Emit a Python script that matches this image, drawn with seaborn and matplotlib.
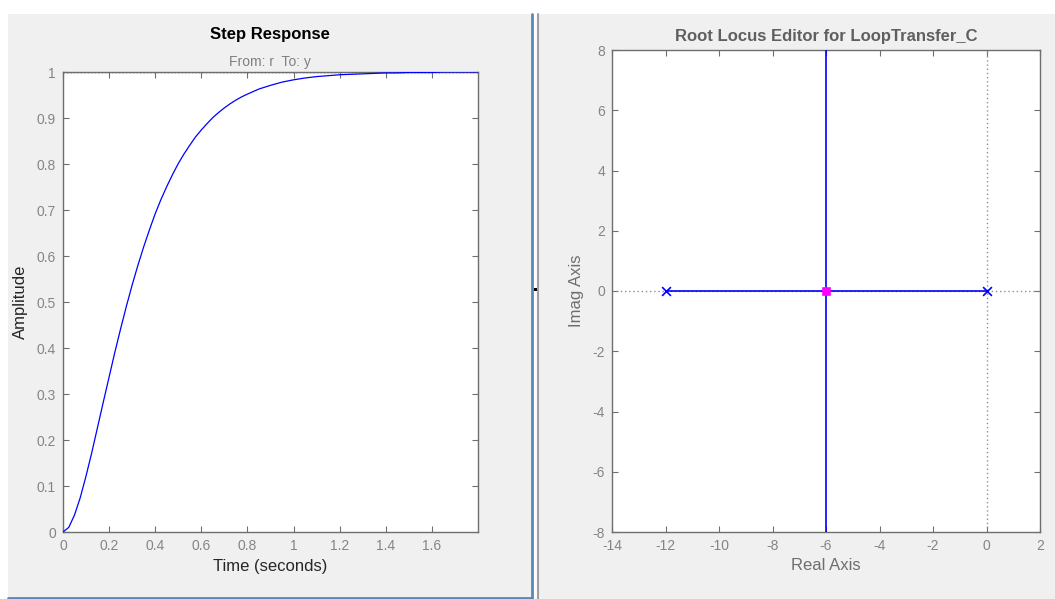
import matplotlib
matplotlib.use("Agg")
import matplotlib.pyplot as plt
import seaborn as sns
import pandas as pd
from matplotlib.patches import Rectangle
from matplotlib.lines import Line2D

# ---------------- data ----------------
time_s = [0.0, 0.025, 0.05, 0.075, 0.10, 0.125, 0.15, 0.175, 0.20, 0.225, 0.25, 0.275,
          0.30, 0.325, 0.35, 0.375, 0.40, 0.425, 0.45, 0.475, 0.50, 0.525, 0.55, 0.575,
          0.60, 0.625, 0.65, 0.675, 0.70, 0.725, 0.75, 0.775, 0.80, 0.85, 0.90, 0.95,
          1.00, 1.05, 1.10, 1.15, 1.20, 1.25, 1.30, 1.35, 1.40, 1.45, 1.50, 1.55,
          1.60, 1.65, 1.70, 1.75, 1.80]
amplitude = [0.0, 0.010, 0.037, 0.075, 0.122, 0.173, 0.228, 0.283, 0.337, 0.391, 0.442, 0.491,
             0.537, 0.580, 0.620, 0.657, 0.692, 0.723, 0.751, 0.777, 0.801, 0.822, 0.841, 0.859,
             0.874, 0.888, 0.901, 0.912, 0.922, 0.931, 0.939, 0.946, 0.952, 0.963, 0.971, 0.978,
             0.983, 0.987, 0.990, 0.992, 0.994, 0.995, 0.996, 0.997, 0.998, 0.998, 0.999, 0.999,
             0.999, 1.000, 1.000, 1.000, 1.000]
steady_state = 1.0

open_loop_poles_re = [-12, 0]
open_loop_poles_im = [0, 0]
closed_loop_poles_re = [-6]
closed_loop_poles_im = [0]
branch_real_re = [-12, 0]
branch_real_im = [0, 0]
branch_vert_re = [-6, -6]
branch_vert_im = [-10, 10]

step_xticks = [0, 0.2, 0.4, 0.6, 0.8, 1, 1.2, 1.4, 1.6]
step_xlabels = ["0", "0.2", "0.4", "0.6", "0.8", "1", "1.2", "1.4", "1.6"]
step_yticks = [0, 0.1, 0.2, 0.3, 0.4, 0.5, 0.6, 0.7, 0.8, 0.9, 1]
step_ylabels = ["0", "0.1", "0.2", "0.3", "0.4", "0.5", "0.6", "0.7", "0.8", "0.9", "1"]
rl_xticks = [-14, -12, -10, -8, -6, -4, -2, 0, 2]
rl_yticks = [-8, -6, -4, -2, 0, 2, 4, 6, 8]

# ---------------- style ----------------
sns.set_theme(style="white")
plt.rcParams["font.family"] = ["Liberation Sans", "DejaVu Sans"]
plt.rcParams["axes.unicode_minus"] = False

PANEL = "#f0f0f0"
TICKC = "#858585"
SPINE = "#6e6e6e"
BLUE = "#0000ff"

fig = plt.figure(figsize=(10.55, 5.99), dpi=100, facecolor="white")
W, H = 1055, 599

def fr(x0, y0, x1, y1):
    return (x0 / W, 1 - y1 / H, (x1 - x0) / W, (y1 - y0) / H)

# panel backgrounds
for (x0, y0, x1, y1) in [(8, 14, 531, 598), (538, 14, 1055, 599)]:
    x, y, w, h = fr(x0, y0, x1, y1)
    fig.patches.append(Rectangle((x, y), w, h, transform=fig.transFigure,
                                 facecolor=PANEL, edgecolor="none", zorder=-10))
# panel borders
fig.add_artist(Line2D([531.5 / W, 531.5 / W], [1 - 14 / H, 1 - 598 / H],
                      color="#5b87b8", lw=2, transform=fig.transFigure))
fig.add_artist(Line2D([8 / W, 532 / W], [1 - 597.5 / H, 1 - 597.5 / H],
                      color="#5b87b8", lw=2, transform=fig.transFigure))
fig.add_artist(Line2D([537.5 / W, 537.5 / W], [1 - 14 / H, 0],
                      color="#a0a0a0", lw=1.5, transform=fig.transFigure))
x, y, w, h = fr(534, 288, 537, 291)
fig.patches.append(Rectangle((x, y), w, h, transform=fig.transFigure,
                             facecolor="black", edgecolor="none", zorder=5))

def style_axes(ax):
    ax.set_facecolor("white")
    for s in ax.spines.values():
        s.set_color(SPINE)
        s.set_linewidth(1.0)
    ax.tick_params(direction="in", length=4, width=0.8, colors=SPINE,
                   labelcolor=TICKC, labelsize=10, top=True, right=True,
                   bottom=True, left=True, pad=5)

# ---------------- step response ----------------
ax1 = fig.add_axes(fr(63, 72, 478, 532))
df_step = pd.DataFrame({"t": time_s, "y": amplitude})
ax1.axhline(steady_state, color="black", lw=1.0, ls=(0, (1, 1.5)), zorder=1)
sns.lineplot(data=df_step, x="t", y="y", ax=ax1, color=BLUE, lw=0.9,
             sort=False, estimator=None, zorder=3)
ax1.set_xlim(0, 1.8)
ax1.set_ylim(0, 1)
ax1.set_xticks(step_xticks)
ax1.set_xticklabels(step_xlabels)
ax1.set_yticks(step_yticks)
ax1.set_yticklabels(step_ylabels)
style_axes(ax1)
ax1.set_xlabel("Time (seconds)", fontsize=12, color="#262626", labelpad=4)
ax1.set_ylabel("Amplitude", fontsize=12, color="#262626", labelpad=6)
fig.text(270 / W, 1 - 34 / H, "Step Response", ha="center", va="center",
         fontsize=12, fontweight="bold", color="black")
fig.text(270 / W, 1 - 62 / H, "From: r  To: y", ha="center", va="center",
         fontsize=10, color="#808080")

# ---------------- root locus ----------------
ax2 = fig.add_axes(fr(612, 50, 1040, 532))
ax2.axhline(0, color="#909090", lw=1.0, ls=(0, (1, 2)), zorder=1)
ax2.axvline(0, color="#909090", lw=1.0, ls=(0, (1, 2)), zorder=1)
df_b1 = pd.DataFrame({"re": branch_real_re, "im": branch_real_im})
df_b2 = pd.DataFrame({"re": branch_vert_re, "im": branch_vert_im})
sns.lineplot(data=df_b1, x="re", y="im", ax=ax2, color=BLUE, lw=1.2,
             sort=False, estimator=None, zorder=3)
sns.lineplot(data=df_b2, x="re", y="im", ax=ax2, color=BLUE, lw=1.2,
             sort=False, estimator=None, zorder=3)
df_ol = pd.DataFrame({"re": open_loop_poles_re, "im": open_loop_poles_im})
df_cl = pd.DataFrame({"re": closed_loop_poles_re, "im": closed_loop_poles_im})
sns.scatterplot(data=df_ol, x="re", y="im", ax=ax2, marker="x", s=40,
                color=BLUE, linewidth=1.2, zorder=4)
sns.scatterplot(data=df_cl, x="re", y="im", ax=ax2, marker="s", s=30,
                color="#ff00ff", edgecolor="#ff00ff", zorder=5)
ax2.set_xlim(-14, 2)
ax2.set_ylim(-8, 8)
ax2.set_xticks(rl_xticks)
ax2.set_yticks(rl_yticks)
style_axes(ax2)
ax2.set_xlabel("Real Axis", fontsize=12, color="#6e6e6e", labelpad=4)
ax2.set_ylabel("Imag Axis", fontsize=12, color="#6e6e6e", labelpad=6)
fig.text(826 / W, 1 - 37 / H, "Root Locus Editor for LoopTransfer_C", ha="center",
         va="center", fontsize=12, fontweight="bold", color="#5f5f5f")

fig.savefig("out.png", dpi=100, facecolor=fig.get_facecolor())
